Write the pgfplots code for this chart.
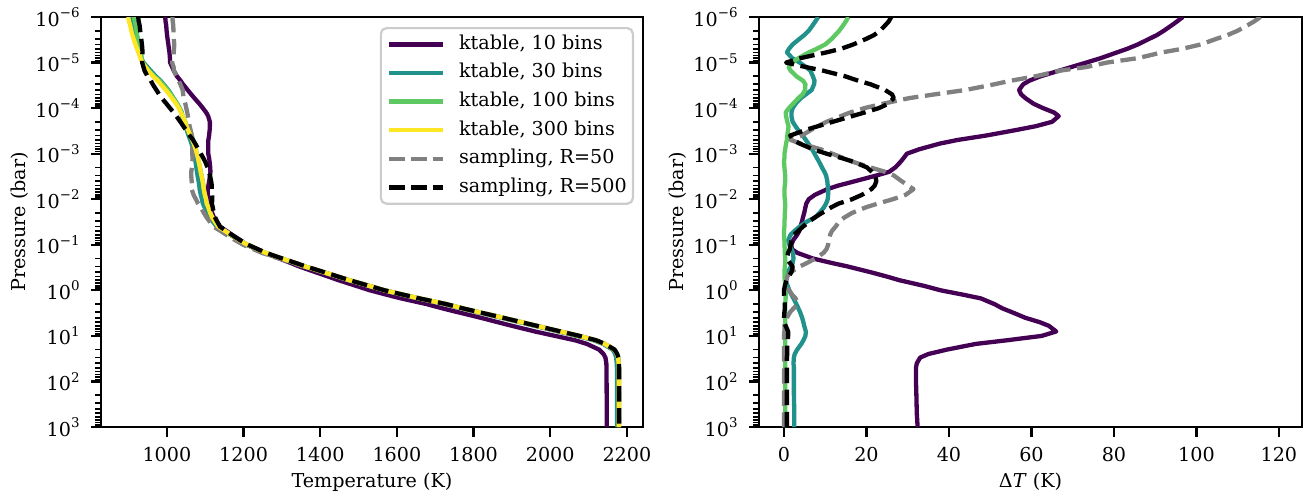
\documentclass[border=0pt]{standalone}
\usepackage{fontspec}
\setmainfont{DejaVu Serif}
\usepackage{pgfplots}
\usepackage{pgfplotstable}
\pgfplotsset{compat=1.18}

\definecolor{vA}{RGB}{68,1,84}
\definecolor{vB}{RGB}{33,145,140}
\definecolor{vC}{RGB}{94,201,98}
\definecolor{vD}{RGB}{253,231,37}
\definecolor{gr}{RGB}{128,128,128}

% columns: P ref t10 t30 t100 t50 t500 d10 d30 d100 d50 d500
\pgfplotstableread{
P ref t10 t30 t100 t50 t500 d10 d30 d100 d50 d500
1e-6 899 995.7 907.3 914.6 1014.5 925.0 96.7 8.3 15.6 115.5 26.0
1.25e-6 901 996.3 908.6 916.0 1015.0 926.4 95.3 7.6 15.0 114.0 25.4
1.5e-6 904 998.1 911.0 918.4 1016.5 928.6 94.1 7.0 14.4 112.5 24.6
2e-6 907 999.1 913.0 920.4 1017.0 930.3 92.1 6.0 13.4 110.0 23.3
2.5e-6 910 1000.4 914.9 922.4 1017.5 931.8 90.4 4.9 12.4 107.5 21.8
3e-6 913 1001.6 916.8 924.6 1017.9 933.0 88.6 3.8 11.6 104.9 20.0
4e-6 918 1003.8 920.1 928.0 1019.1 934.8 85.8 2.1 10.0 101.1 16.8
5e-6 922 1005.2 923.2 929.9 1018.5 935.8 83.2 1.2 7.9 96.5 13.8
6e-6 926 1006.7 926.7 932.0 1017.6 936.2 80.7 0.7 6.0 91.6 10.2
8e-6 931 1007.8 933.0 934.5 1016.8 935.0 76.8 2.0 3.5 85.8 4.0
1e-5 935 1008.3 938.8 937.0 1013.3 935.5 73.3 3.8 2.0 78.3 0.5
1.25e-5 944 1013.7 949.3 945.1 1017.4 938.8 69.7 5.3 1.1 73.4 5.2
1.5e-5 951 1017.8 957.4 952.6 1018.0 941.6 66.8 6.4 1.6 67.0 9.4
2e-5 964 1026.2 971.0 967.0 1025.0 949.2 62.2 7.0 3.0 61.0 14.8
2.5e-5 976 1035.5 983.4 980.6 1031.0 958.0 59.5 7.4 4.6 55.0 18.0
3e-5 984 1042.0 991.3 989.2 1035.0 963.0 58.0 7.3 5.2 51.0 21.0
4e-5 997 1054.0 1003.7 1002.1 1041.0 972.5 57.0 6.7 5.1 44.0 24.5
5e-5 1006 1063.5 1011.3 1010.5 1042.5 979.8 57.5 5.3 4.5 36.5 26.2
6e-5 1013 1071.5 1017.1 1016.5 1043.5 986.4 58.5 4.1 3.5 30.5 26.6
8e-5 1024 1084.5 1026.8 1026.2 1048.0 998.7 60.5 2.8 2.2 24.0 25.3
1e-4 1031 1093.8 1033.1 1032.2 1050.5 1008.0 62.8 2.1 1.2 19.5 23.0
1.25e-4 1037 1102.5 1038.8 1037.4 1053.0 1017.5 65.5 1.8 0.4 16.0 19.5
1.5e-4 1041 1107.6 1039.2 1041.5 1054.8 1024.5 66.6 1.8 0.5 13.8 16.5
2e-4 1047 1112.0 1044.9 1047.8 1057.3 1035.2 65.0 2.1 0.8 10.3 11.8
2.5e-4 1051 1112.0 1048.2 1052.1 1059.2 1042.8 61.0 2.8 1.1 8.2 8.2
3e-4 1055 1111.5 1051.6 1056.0 1061.6 1049.7 56.5 3.4 1.0 6.6 5.3
4e-4 1061 1110.0 1056.5 1061.8 1065.3 1059.5 49.0 4.5 0.8 4.3 1.5
5e-4 1066 1108.1 1060.7 1066.7 1067.6 1068.2 42.1 5.3 0.7 1.6 2.2
6e-4 1070 1107.8 1064.1 1070.5 1066.0 1073.8 37.8 5.9 0.5 4.0 3.8
8e-4 1075 1107.8 1068.2 1075.3 1066.1 1082.0 32.8 6.8 0.3 8.9 7.0
1e-3 1078 1107.8 1070.6 1078.1 1066.3 1088.3 29.8 7.4 0.1 11.7 10.3
1.25e-3 1081 1110.0 1073.0 1081.1 1066.6 1095.0 29.0 8.0 0.1 14.4 14.0
1.5e-3 1083 1111.3 1074.5 1083.0 1066.4 1099.8 28.3 8.5 0.0 16.6 16.8
2e-3 1086 1113.0 1076.8 1086.1 1065.1 1106.1 27.0 9.2 0.1 20.9 20.1
2.5e-3 1088 1113.5 1078.2 1088.2 1063.5 1109.3 25.5 9.8 0.2 24.5 21.3
3e-3 1090 1112.5 1079.8 1090.3 1063.4 1112.1 22.5 10.2 0.3 26.6 22.1
4e-3 1093 1110.3 1082.5 1093.3 1064.5 1115.4 17.3 10.5 0.3 28.5 22.4
5e-3 1095 1108.2 1084.4 1095.2 1064.9 1117.0 13.2 10.6 0.2 30.1 22.0
6e-3 1096 1106.5 1085.3 1096.1 1064.6 1117.2 10.5 10.7 0.1 31.4 21.2
8e-3 1099 1106.5 1088.3 1099.1 1069.5 1117.9 7.5 10.7 0.1 29.5 18.9
1e-2 1102 1108.0 1091.4 1102.2 1075.6 1118.5 6.0 10.6 0.2 26.4 16.5
1.25e-2 1104 1109.4 1093.8 1104.3 1081.3 1117.2 5.4 10.2 0.3 22.7 13.2
1.5e-2 1108 1113.2 1098.3 1108.3 1088.1 1119.5 5.2 9.7 0.3 19.9 11.5
2e-2 1113 1117.9 1104.4 1113.2 1096.5 1122.2 4.9 8.6 0.2 16.5 9.2
2.5e-2 1118 1122.6 1110.4 1118.2 1103.3 1125.5 4.6 7.6 0.2 14.7 7.5
3e-2 1124 1128.4 1118.2 1124.1 1110.5 1130.3 4.4 5.8 0.1 13.5 6.3
4e-2 1134 1138.0 1130.2 1134.1 1121.5 1138.6 4.0 3.8 0.1 12.5 4.6
5e-2 1152 1155.7 1149.5 1152.0 1140.4 1155.4 3.7 2.5 0.0 11.6 3.4
6e-2 1166 1169.2 1164.4 1166.0 1154.8 1168.5 3.2 1.6 0.0 11.2 2.5
8e-2 1190 1192.2 1189.0 1190.1 1179.1 1191.8 2.2 1.0 0.1 10.9 1.8
0.1 1210 1208.2 1208.7 1210.1 1199.3 1211.6 1.8 1.3 0.1 10.7 1.6
0.125 1236 1234.1 1234.2 1236.2 1225.7 1237.4 1.9 1.8 0.2 10.3 1.4
0.15 1257 1253.8 1254.8 1257.2 1247.4 1258.0 3.2 2.2 0.2 9.6 1.0
0.2 1300 1293.0 1297.7 1300.3 1292.4 1300.7 7.0 2.3 0.3 7.6 0.7
0.25 1334 1322.5 1331.9 1334.3 1328.4 1335.4 11.5 2.1 0.3 5.6 1.4
0.3 1361 1345.5 1359.3 1361.2 1357.2 1363.1 15.5 1.7 0.2 3.8 2.1
0.4 1409 1388.0 1408.1 1409.1 1407.4 1410.8 21.0 0.9 0.1 1.6 1.8
0.5 1446 1421.0 1445.6 1446.1 1445.2 1447.1 25.0 0.4 0.1 0.8 1.1
0.6 1476 1448.0 1475.7 1476.2 1475.4 1476.6 28.0 0.3 0.2 0.6 0.6
0.8 1528 1494.0 1527.1 1528.3 1527.2 1528.2 34.0 0.9 0.3 0.8 0.2
1 1568 1530.0 1566.7 1568.4 1566.8 1568.0 38.0 1.3 0.4 1.2 0.0
1.25 1617 1573.5 1615.2 1617.4 1615.0 1617.0 43.5 1.8 0.4 2.0 0.0
1.5 1658 1610.3 1655.7 1658.4 1655.2 1658.1 47.7 2.3 0.4 2.8 0.1
2 1728 1677.0 1725.0 1728.3 1724.6 1728.2 51.0 3.0 0.3 3.4 0.2
2.5 1773 1720.0 1769.5 1773.3 1770.7 1773.2 53.0 3.5 0.3 2.3 0.2
3 1813 1757.8 1809.1 1813.3 1811.5 1813.1 55.2 3.9 0.3 1.5 0.1
4 1877 1818.5 1872.6 1877.3 1876.3 1877.0 58.5 4.4 0.3 0.7 0.0
5 1925 1863.0 1920.3 1925.3 1924.8 1925.0 62.0 4.7 0.3 0.2 0.0
6 1964 1899.8 1959.1 1964.3 1963.9 1964.4 64.2 4.9 0.3 0.1 0.4
8 2026 1960.0 2020.7 2026.3 2025.9 2027.0 66.0 5.3 0.3 0.1 1.0
10 2075 2012.5 2069.8 2075.3 2075.0 2076.0 62.5 5.2 0.3 0.0 1.0
12.5 2119 2065.0 2114.3 2119.3 2119.0 2119.9 54.0 4.7 0.3 0.0 0.9
15 2142 2095.5 2137.8 2142.3 2142.0 2142.8 46.5 4.2 0.3 0.0 0.8
20 2167 2127.5 2163.0 2167.3 2167.0 2167.8 39.5 3.2 0.3 0.0 0.8
25 2174 2139.0 2169.5 2174.3 2174.0 2174.8 35.0 2.6 0.3 0.0 0.8
30 2177 2144.0 2172.0 2177.3 2177.0 2177.7 33.0 2.4 0.3 0.0 0.7
40 2178.5 2146.3 2173.5 2178.8 2178.5 2179.2 32.2 2.3 0.3 0.0 0.7
50 2179 2147.0 2174.0 2179.3 2179.0 2179.7 32.0 2.4 0.3 0.0 0.7
100 2179 2147.0 2174.0 2179.3 2179.0 2179.7 32.0 2.4 0.3 0.0 0.7
200 2179 2147.2 2174.0 2179.3 2179.0 2179.7 32.1 2.4 0.3 0.0 0.7
500 2179 2147.3 2174.0 2179.3 2179.0 2179.7 32.2 2.5 0.3 0.0 0.7
1000 2179 2147.5 2174.0 2179.3 2179.0 2179.7 32.4 2.5 0.3 0.0 0.7
}\data

\pgfplotsset{
  every axis/.append style={
    scale only axis, height=147.6bp,
    ymode=log, y dir=reverse, ymin=1e-6, ymax=1e3,
    ytick={1e-6,1e-5,1e-4,1e-3,1e-2,1e-1,1,10,100,1000},
    yticklabels={10\textsuperscript{−6},10\textsuperscript{−5},10\textsuperscript{−4},10\textsuperscript{−3},10\textsuperscript{−2},10\textsuperscript{−1},10\textsuperscript{0},10\textsuperscript{1},10\textsuperscript{2},10\textsuperscript{3}},
    minor ytick={2e-6,3e-6,4e-6,5e-6,6e-6,7e-6,8e-6,9e-6,
      2e-5,3e-5,4e-5,5e-5,6e-5,7e-5,8e-5,9e-5,
      2e-4,3e-4,4e-4,5e-4,6e-4,7e-4,8e-4,9e-4,
      2e-3,3e-3,4e-3,5e-3,6e-3,7e-3,8e-3,9e-3,
      2e-2,3e-2,4e-2,5e-2,6e-2,7e-2,8e-2,9e-2,
      0.2,0.3,0.4,0.5,0.6,0.7,0.8,0.9,
      2,3,4,5,6,7,8,9,20,30,40,50,60,70,80,90,
      200,300,400,500,600,700,800,900},
    xtick pos=bottom, ytick pos=left,
    tick align=outside,
    major tick length=3.5bp, minor tick length=2bp,
    every tick/.style={black, line width=0.8bp},
    every minor tick/.append style={line width=0.6bp},
    axis line style={line width=0.8bp},
    tick label style={inner sep=0pt},
    xticklabel style={yshift=-3.5bp},
    yticklabel style={xshift=-3.5bp},
    xlabel style={yshift=-1.8bp},
    ylabel={Pressure (bar)},
    legend image code/.code={\draw[#1] (0bp,0bp) -- (19.4bp,0bp);},
  },
  L/.style={line width=1.55bp, line join=round},
  D/.style={line width=1.55bp, line join=round, dash pattern=on 5.55bp off 2.4bp},
}

\begin{document}
\fontsize{6.92}{8.3}\selectfont
\begin{tikzpicture}
\useasboundingbox (-36.36bp,-24.48bp) rectangle (435.6bp,153.72bp);
\begin{axis}[
  at={(0bp,0bp)}, anchor=south west,
  width=195.12bp, xmin=828, xmax=2242,
  xtick={1000,1200,1400,1600,1800,2000,2200},
  xticklabels={1000,1200,1400,1600,1800,2000,2200},
  xlabel={Temperature (K)},
  legend cell align=left,
  legend style={at={(axis description cs:1,1)}, anchor=north east,
    xshift=-3.24bp, yshift=-3.6bp,
    draw=black!20, line width=0.8bp, rounded corners=2bp,
    fill=white, fill opacity=0.8, text opacity=1,
    inner xsep=2.2bp, inner ysep=2.5bp, column sep=5bp, row sep=3.6bp,
    nodes={inner sep=0pt, text height=5.1bp, text depth=1.6bp, anchor=west}},
]
\addlegendimage{L, vA}\addlegendentry{ktable, 10 bins}
\addlegendimage{L, vB}\addlegendentry{ktable, 30 bins}
\addlegendimage{L, vC}\addlegendentry{ktable, 100 bins}
\addlegendimage{L, vD}\addlegendentry{ktable, 300 bins}
\addlegendimage{D, gr}\addlegendentry{sampling, R=50}
\addlegendimage{D, black}\addlegendentry{sampling, R=500}
\addplot[L, vA, forget plot] table[x=t10, y=P] {\data};
\addplot[L, vB, forget plot] table[x=t30, y=P] {\data};
\addplot[L, vC, forget plot] table[x=t100, y=P] {\data};
\addplot[D, gr, forget plot] table[x=t50, y=P] {\data};
\addplot[L, vD, forget plot] table[x=ref, y=P] {\data};
\addplot[D, black, forget plot] table[x=t500, y=P] {\data};
\end{axis}
\begin{axis}[
  at={(236.88bp,0bp)}, anchor=south west,
  width=195.48bp, xmin=-6.06, xmax=125.6,
  xtick={0,20,40,60,80,100,120},
  xticklabels={0,20,40,60,80,100,120},
  xlabel={Δ\textit{T} (K)},
]
\addplot[L, vA] table[x=d10, y=P] {\data};
\addplot[L, vB] table[x=d30, y=P] {\data};
\addplot[L, vC] table[x=d100, y=P] {\data};
\addplot[D, gr] table[x=d50, y=P] {\data};
\addplot[D, black] table[x=d500, y=P] {\data};
\end{axis}
\end{tikzpicture}
\end{document}
